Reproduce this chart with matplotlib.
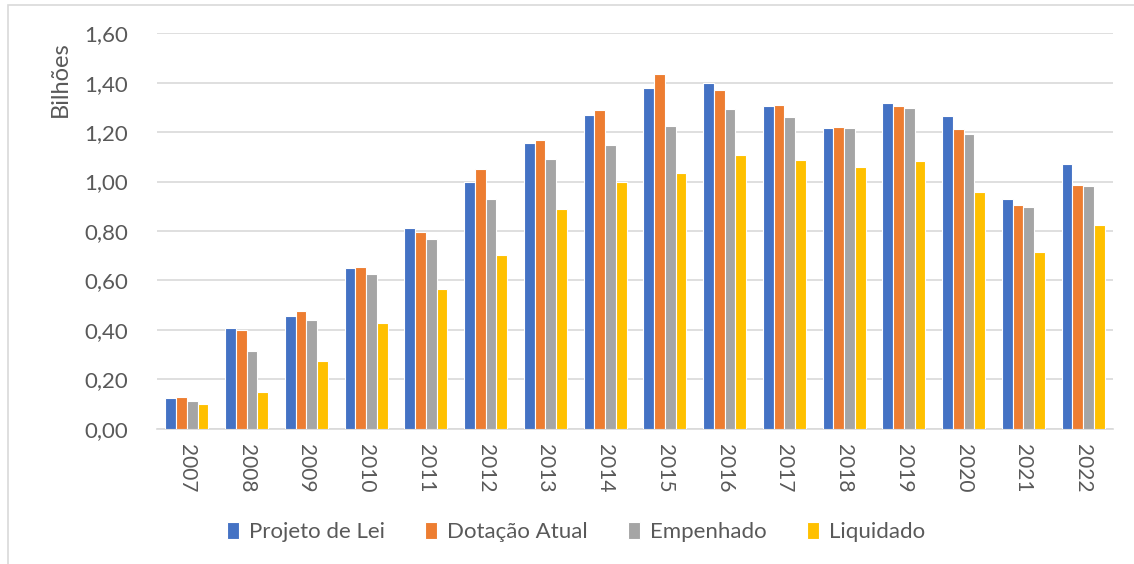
"""
Orçamento anual (bilhões) - Projeto de Lei x Dotação x Empenhado x Liquidado
"""

import numpy as np
import matplotlib.pyplot as plt
from matplotlib.patches import Rectangle

# Dados
anos = ['2007', '2008', '2009', '2010', '2011', '2012', '2013', '2014',
        '2015', '2016', '2017', '2018', '2019', '2020', '2021', '2022']
projeto_lei = [0.125, 0.409, 0.456, 0.649, 0.811, 0.998, 1.155, 1.271,
               1.380, 1.400, 1.305, 1.216, 1.317, 1.265, 0.931, 1.073]
dotacao_atual = [0.128, 0.399, 0.475, 0.653, 0.795, 1.050, 1.170, 1.288,
                 1.434, 1.369, 1.311, 1.222, 1.306, 1.213, 0.905, 0.986]
empenhado = [0.112, 0.316, 0.438, 0.626, 0.768, 0.928, 1.091, 1.147,
             1.226, 1.294, 1.261, 1.216, 1.296, 1.193, 0.896, 0.983]
liquidado = [0.100, 0.147, 0.275, 0.428, 0.565, 0.704, 0.888, 0.998,
             1.036, 1.108, 1.089, 1.059, 1.085, 0.957, 0.715, 0.826]
series = ['Projeto de Lei', 'Dotação Atual', 'Empenhado', 'Liquidado']
y_ticks = [0.0, 0.2, 0.4, 0.6, 0.8, 1.0, 1.2, 1.4, 1.6]

CORES = ['#4472C4', '#ED7D31', '#A5A5A5', '#FFC000']
TXT = '#595959'
GRID = '#D9D9D9'

plt.rcParams['font.family'] = ['Lato', 'DejaVu Sans']

fig = plt.figure(figsize=(11.34, 5.64), dpi=100)
ax = fig.add_axes([0.1384, 0.2399, 0.8430, 0.7011])

# moldura do gráfico
fig.patches.append(Rectangle((8 / 1134, -0.05), 1.1, 1 - 5 / 564 + 0.05,
                             transform=fig.transFigure, fill=False,
                             edgecolor=GRID, linewidth=1.2))

x = np.arange(len(anos))
largura = 0.18
dados = [projeto_lei, dotacao_atual, empenhado, liquidado]
for i, (vals, nome, cor) in enumerate(zip(dados, series, CORES)):
    ax.bar(x + (i - 1.5) * largura, vals, largura, color=cor,
           edgecolor='white', linewidth=0.8, label=nome, zorder=3)

ax.set_xlim(-0.5, len(anos) - 0.5)
ax.set_ylim(0, 1.6)
ax.set_yticks(y_ticks)
ax.set_yticklabels([f'{v:.2f}'.replace('.', ',') for v in y_ticks])
ax.set_xticks(x)
ax.set_xticklabels(anos, rotation=270)
ax.tick_params(axis='both', length=0, colors=TXT)
ax.tick_params(axis='y', pad=21, labelsize=16)
ax.tick_params(axis='x', pad=11, labelsize=15)

ax.grid(axis='y', color=GRID, linewidth=1.2, zorder=0)
for lado in ['top', 'right', 'left']:
    ax.spines[lado].set_visible(False)
ax.spines['bottom'].set_color(GRID)
ax.spines['bottom'].set_linewidth(1.2)

fig.text(60 / 1134, 1 - 79 / 564, 'Bilhões', rotation=90, ha='center',
         va='center', color=TXT, fontsize=17)

fig.legend(loc='center', bbox_to_anchor=(576 / 1134, 1 - 532 / 564), ncol=4,
           frameon=False, fontsize=16, labelcolor=TXT, handlelength=0.55,
           handleheight=0.8, handletextpad=0.45, columnspacing=1.8)

plt.savefig('out.png', dpi=100)
